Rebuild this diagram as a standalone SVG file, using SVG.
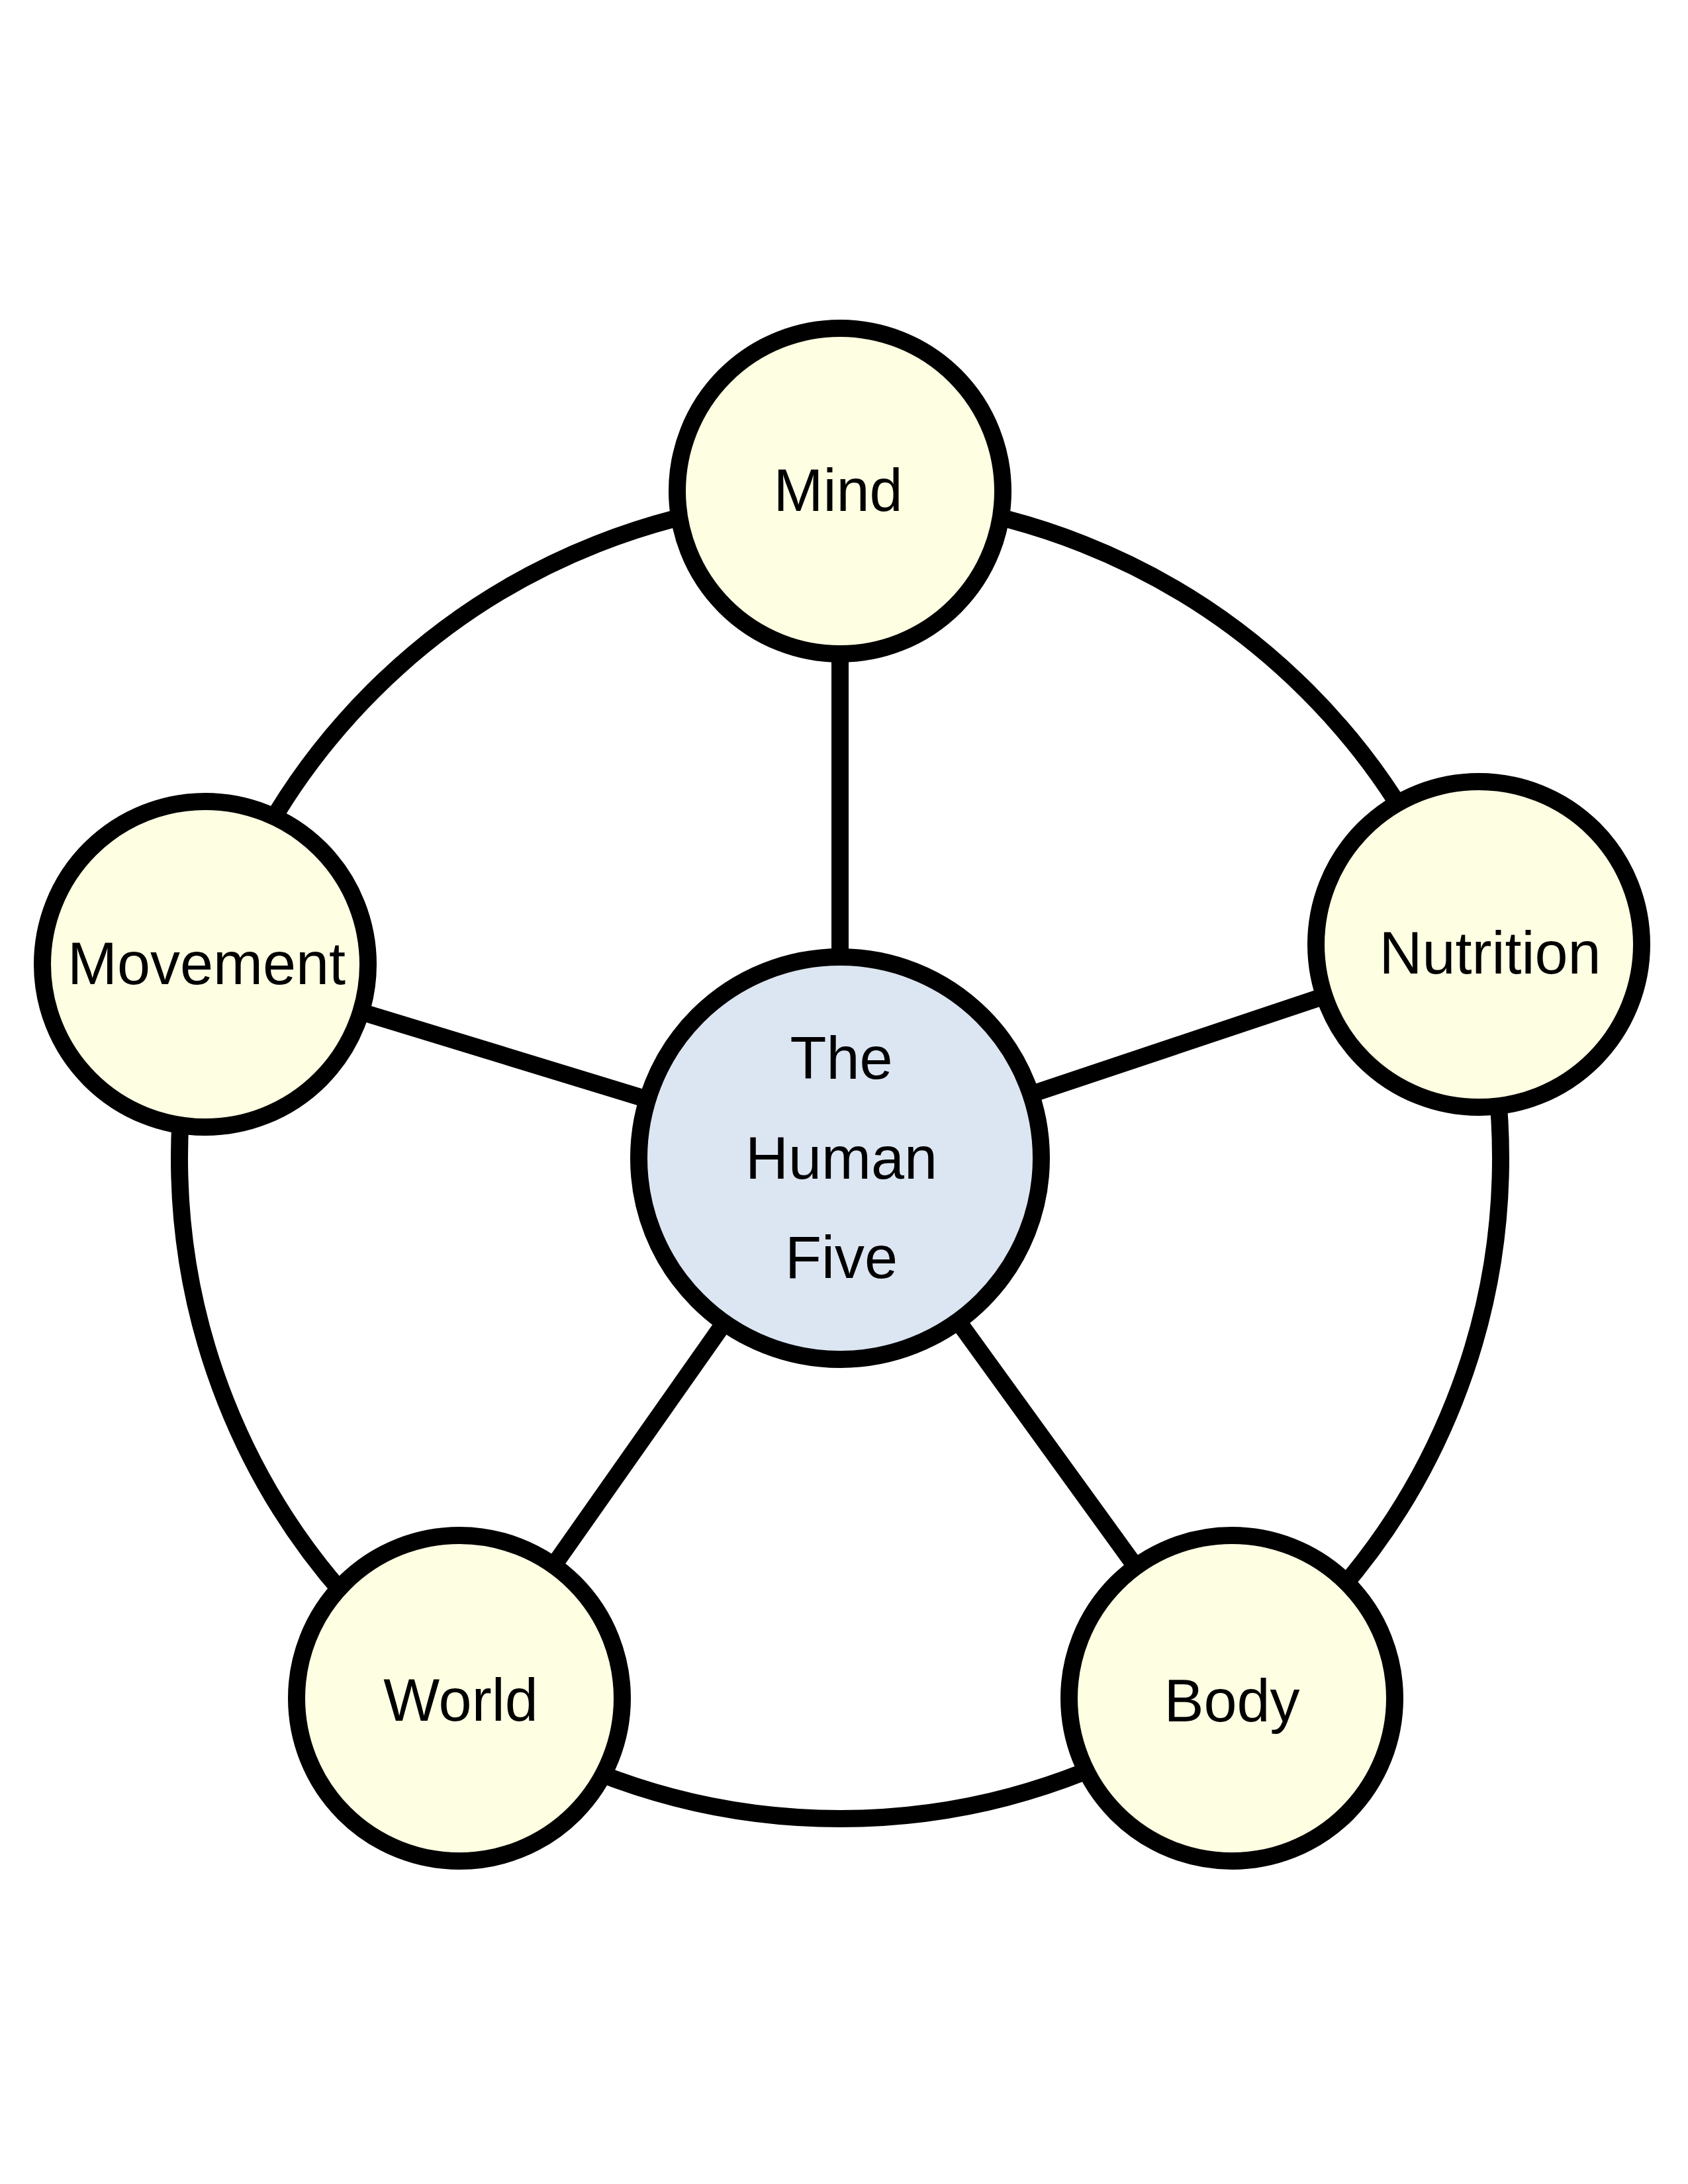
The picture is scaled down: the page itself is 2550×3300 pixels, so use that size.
<svg xmlns="http://www.w3.org/2000/svg" width="2550" height="3300" viewBox="0 0 2550 3300">
<style>
.ring{fill:none;stroke:#000;stroke-width:26}
.spoke{stroke:#000;stroke-width:26}
.node{fill:#FEFEE2;stroke:#000;stroke-width:26}
.hub{fill:#DCE6F2;stroke:#000;stroke-width:26}
.lbl{font-family:"Liberation Sans",Arial,sans-serif;font-size:90px;fill:#000;text-anchor:middle}
</style>
<rect width="2550" height="3300" fill="#fff"/>
<g id="connectors">
<circle class="ring" cx="1269" cy="1750" r="998"/>
<line class="spoke" x1="1269" y1="1750" x2="1269" y2="742"/>
<line class="spoke" x1="1269" y1="1750" x2="2234" y2="1427"/>
<line class="spoke" x1="1269" y1="1750" x2="310" y2="1457"/>
<line class="spoke" x1="1269" y1="1750" x2="694" y2="2568"/>
<line class="spoke" x1="1269" y1="1750" x2="1861" y2="2568"/>
</g>
<g id="mind">
<circle class="node" cx="1269" cy="742" r="246"/>
<text class="lbl" x="1266" y="772">Mind</text>
</g>
<g id="nutrition">
<circle class="node" cx="2234" cy="1427" r="246"/>
<text class="lbl" x="2251" y="1471">Nutrition</text>
</g>
<g id="movement">
<circle class="node" cx="310" cy="1457" r="246"/>
<text class="lbl" x="312" y="1487">Movement</text>
</g>
<g id="world">
<circle class="node" cx="694" cy="2566" r="246"/>
<text class="lbl" x="696" y="2600">World</text>
</g>
<g id="body">
<circle class="node" cx="1861" cy="2566" r="246"/>
<text class="lbl" x="1861" y="2601">Body</text>
</g>
<g id="human-five">
<circle class="hub" cx="1269" cy="1750" r="304"/>
<text class="lbl" x="1271" y="1630">The</text>
<text class="lbl" x="1271" y="1781">Human</text>
<text class="lbl" x="1271" y="1931">Five</text>
</g>
</svg>
